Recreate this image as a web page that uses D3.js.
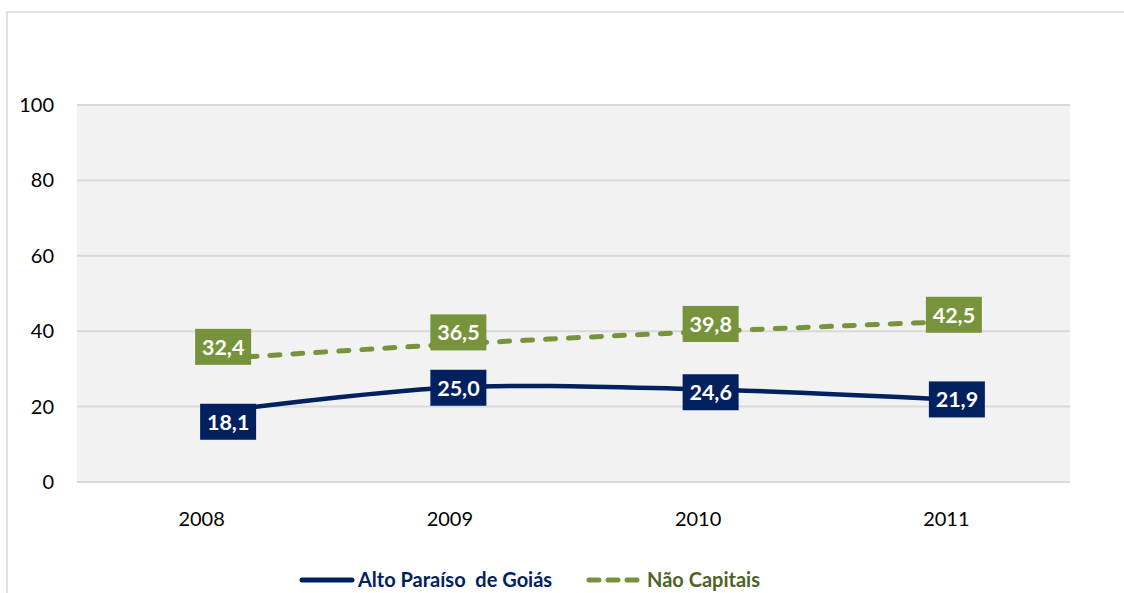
<!DOCTYPE html>
<html><head><meta charset="utf-8">
<script src="https://cdn.jsdelivr.net/npm/d3@7"></script>
<style>body{margin:0;background:#fff;}svg{display:block;}</style>
</head><body>
<script>
const years = ["2008", "2009", "2010", "2011"];
const altoParaiso = [18.1, 25.0, 24.6, 21.9];
const naoCapitais = [32.4, 36.5, 39.8, 42.5];
const yTicks = [0, 20, 40, 60, 80, 100];
const seriesNames = ["Alto Paraíso  de Goiás", "Não Capitais"];
// label box offsets (layout only)
const blueLabelOffset = [[27, 8], [9, 0], [13, 3], [11, 0]];
const greenLabelOffset = [[22, -13], [9, -12], [13, -8], [8, -7]];

const W = 1124, H = 593;
const blue = "#002060", green = "#77933C", greenText = "#4F6228";
const svg = d3.select("body").append("svg").attr("width", W).attr("height", H);
const font = "Lato, 'Open Sans', sans-serif";

svg.append("rect").attr("x", 7).attr("y", 12).attr("width", W + 20).attr("height", H + 20)
  .attr("fill", "#fff").attr("stroke", "#d9d9d9").attr("stroke-width", 1.5);

const m = {l: 77, r: 1070, t: 105, b: 482};
const x = d3.scalePoint().domain(years).range([m.l, m.r]).padding(0.5);
const y = d3.scaleLinear().domain([0, 100]).range([m.b, m.t]);

svg.append("rect").attr("x", m.l).attr("y", m.t).attr("width", m.r - m.l).attr("height", m.b - m.t)
  .attr("fill", "#f2f2f2");

svg.append("g").selectAll("line").data(yTicks).join("line")
  .attr("x1", m.l).attr("x2", m.r).attr("y1", d => y(d)).attr("y2", d => y(d))
  .attr("stroke", "#d9d9d9").attr("stroke-width", 2);

const yAxis = svg.append("g").attr("transform", `translate(${m.l},0)`)
  .call(d3.axisLeft(y).tickValues(yTicks).tickSize(0).tickPadding(23));
yAxis.select(".domain").remove();
yAxis.selectAll("text").attr("font-family", font).attr("font-size", 20).attr("fill", "#000");

const xAxis = svg.append("g").attr("transform", `translate(0,${m.b})`)
  .call(d3.axisBottom(x).tickSize(0).tickPadding(30));
xAxis.select(".domain").remove();
xAxis.selectAll("text").attr("font-family", font).attr("font-size", 20).attr("fill", "#000");

const line = d3.line().x((d, i) => x(years[i])).y(d => y(d)).curve(d3.curveCatmullRom.alpha(0.5));

svg.append("path").datum(naoCapitais).attr("d", line).attr("fill", "none")
  .attr("stroke", green).attr("stroke-width", 5).attr("stroke-linecap", "round")
  .attr("stroke-dasharray", "10 13");
svg.append("path").datum(altoParaiso).attr("d", line).attr("fill", "none")
  .attr("stroke", blue).attr("stroke-width", 4.5);

function labels(vals, offs, color) {
  const g = svg.append("g").selectAll("g").data(vals).join("g")
    .attr("transform", (d, i) => `translate(${x(years[i]) + offs[i][0]},${y(d) + offs[i][1]})`);
  g.append("rect").attr("x", -28).attr("y", -18).attr("width", 56).attr("height", 36).attr("fill", color);
  g.append("text").attr("text-anchor", "middle").attr("dy", "0.36em")
    .attr("font-family", font).attr("font-weight", "bold").attr("font-size", 21.5).attr("fill", "#fff")
    .text(d => d.toFixed(1).replace(".", ","));
}
labels(naoCapitais, greenLabelOffset, green);
labels(altoParaiso, blueLabelOffset, blue);

// legend
const ly = 580;
svg.append("line").attr("x1", 302).attr("x2", 352).attr("y1", ly).attr("y2", ly)
  .attr("stroke", blue).attr("stroke-width", 5).attr("stroke-linecap", "round");
svg.append("text").attr("x", 358).attr("y", ly).attr("dy", "0.35em").style("white-space", "pre")
  .attr("font-family", font).attr("font-weight", "bold").attr("font-size", 20).attr("fill", blue)
  .text(seriesNames[0]);
svg.append("line").attr("x1", 589).attr("x2", 637).attr("y1", ly).attr("y2", ly)
  .attr("stroke", green).attr("stroke-width", 5).attr("stroke-linecap", "round")
  .attr("stroke-dasharray", "10 9");
svg.append("text").attr("x", 647).attr("y", ly).attr("dy", "0.35em")
  .attr("font-family", font).attr("font-weight", "bold").attr("font-size", 20).attr("fill", greenText)
  .text(seriesNames[1]);
</script>
</body></html>
